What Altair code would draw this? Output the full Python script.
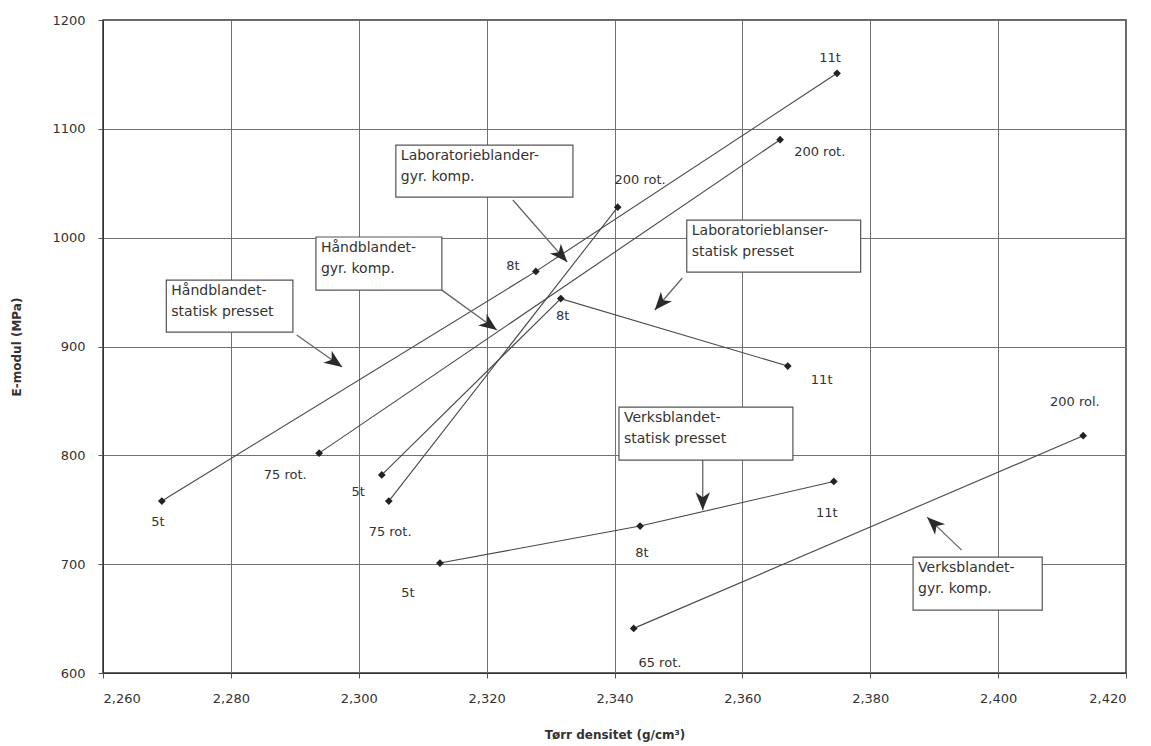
import math
import altair as alt
import pandas as pd

# ---------------- data ----------------
point_series = ["HS", "HS", "HS", "HG", "HG", "LG", "LG", "LS", "LS", "LS",
                "VS", "VS", "VS", "VG", "VG"]
density = [2.2692, 2.3277, 2.3748, 2.2938, 2.3659, 2.3047, 2.3405, 2.3036,
           2.3316, 2.3671, 2.3127, 2.3440, 2.3743, 2.3430, 2.4133]
emodul = [758, 969, 1151, 802, 1090, 758, 1028, 782, 944, 882, 701, 735, 776,
          641, 818]
point_labels = ["5t", "8t", "11t", "75 rot.", "200 rot.", "75 rot.", "200 rot.",
                "5t", "8t", "11t", "5t", "8t", "11t", "65 rot.", "200 rol."]
# annotation positions of point labels (data units)
label_x = [2.2686, 2.3241, 2.3737, 2.2885, 2.3721, 2.3049, 2.3440, 2.2999,
           2.3319, 2.3724, 2.3077, 2.3443, 2.3732, 2.3471, 2.4120]
label_y = [738.6, 973.9, 1165, 781.8, 1078.7, 729.4, 1053, 766.2, 928, 869,
           673.3, 710, 747, 609, 849]

# call-out boxes (data units)
box_text = ["Laboratorieblander-\ngyr. komp.",
            "Laboratorieblanser-\nstatisk presset",
            "Håndblandet-\ngyr. komp.",
            "Håndblandet-\nstatisk presset",
            "Verksblandet-\nstatisk presset",
            "Verksblandet-\ngyr. komp."]
box_x1 = [2.3058, 2.3513, 2.2933, 2.2699, 2.3407, 2.3867]
box_x2 = [2.3335, 2.3785, 2.3130, 2.2897, 2.3679, 2.4069]
box_y1 = [1085.1, 1016.2, 1000.6, 961.0, 844.3, 706.4]
box_y2 = [1037.3, 968.4, 951.8, 913.2, 795.6, 657.7]

# call-out arrows (start -> tip, data units)
arrow_x1 = [2.3241, 2.3506, 2.3130, 2.2903, 2.3538, 2.3943]
arrow_y1 = [1034.6, 962.9, 951.8, 910.5, 795.6, 712.9]
arrow_x2 = [2.3326, 2.3463, 2.3216, 2.2974, 2.3538, 2.3889]
arrow_y2 = [977.6, 933.5, 915.1, 881.1, 749.6, 743.2]

x_ticks = [2.26, 2.28, 2.30, 2.32, 2.34, 2.36, 2.38, 2.40, 2.42]
y_ticks = [600, 700, 800, 900, 1000, 1100, 1200]

# ---------------- layout ----------------
W, H = 1023, 653
XMIN, XMAX, YMIN, YMAX = 2.26, 2.42, 600, 1200
FONT = "DejaVu Sans"
INK = "#333333"

pts = pd.DataFrame({"s": point_series, "x": density, "y": emodul,
                    "lab": point_labels, "lx": label_x, "ly": label_y})
boxes = pd.DataFrame({"t": box_text, "x1": box_x1, "x2": box_x2,
                      "y1": box_y1, "y2": box_y2})

sx = W / (XMAX - XMIN)
sy = H / (YMAX - YMIN)
angles = []
for a, b, c, d in zip(arrow_x1, arrow_y1, arrow_x2, arrow_y2):
    dx = (c - a) * sx
    dy = -(d - b) * sy
    angles.append(math.degrees(math.atan2(dx, -dy)) % 360)
arrows = pd.DataFrame({"x1": arrow_x1, "y1": arrow_y1, "x2": arrow_x2,
                       "y2": arrow_y2, "ang": angles})

xs = alt.Scale(domain=[XMIN, XMAX], nice=False, zero=False)
ys = alt.Scale(domain=[YMIN, YMAX], nice=False, zero=False)

xaxis = alt.Axis(values=x_ticks, title="Tørr densitet (g/cm³)",
                 labelExpr="replace(format(datum.value, '.3f'), '.', ',')",
                 labelFont=FONT, labelFontSize=13, labelColor=INK,
                 titleFont=FONT, titleFontSize=12, titleFontWeight="bold",
                 titleColor=INK, labelPadding=14, titlePadding=24,
                 tickSize=5, tickColor="#555", domainColor=INK,
                 gridColor="#707070", gridWidth=1)
yaxis = alt.Axis(values=y_ticks, title="E-modul (MPa)", format="d",
                 labelFont=FONT, labelFontSize=13, labelColor=INK,
                 titleFont=FONT, titleFontSize=12, titleFontWeight="bold",
                 titleColor=INK, labelPadding=13, titlePadding=28,
                 tickSize=5, tickColor="#555", domainColor=INK,
                 gridColor="#707070", gridWidth=1)

base = alt.Chart(pts)

lines = base.mark_line(color="#484848", strokeWidth=1.1).encode(
    x=alt.X("x:Q", scale=xs, axis=xaxis),
    y=alt.Y("y:Q", scale=ys, axis=yaxis),
    detail="s:N",
)
dots = base.mark_point(shape="diamond", filled=True, size=60, color="#222222",
                       opacity=1).encode(x=alt.X("x:Q", scale=xs),
                                         y=alt.Y("y:Q", scale=ys))
labels = base.mark_text(font=FONT, fontSize=13, color=INK, align="center",
                        baseline="middle").encode(
    x=alt.X("lx:Q", scale=xs), y=alt.Y("ly:Q", scale=ys), text="lab:N")

arrow_lines = alt.Chart(arrows).mark_rule(color="#666666", strokeWidth=1.3).encode(
    x=alt.X("x1:Q", scale=xs), y=alt.Y("y1:Q", scale=ys), x2="x2:Q", y2="y2:Q")
heads = alt.Chart(arrows).mark_point(
    shape="M0,0 L0.65,1.6 L0,1.15 L-0.65,1.6 Z", filled=True, size=500,
    color="#2a2a2a", opacity=1).encode(
    x=alt.X("x2:Q", scale=xs), y=alt.Y("y2:Q", scale=ys),
    angle=alt.Angle("ang:Q", scale=None))

rects = alt.Chart(boxes).mark_rect(fill="white", stroke="#555555",
                                   strokeWidth=1.2).encode(
    x=alt.X("x1:Q", scale=xs), x2="x2:Q",
    y=alt.Y("y1:Q", scale=ys), y2="y2:Q")
rtext = alt.Chart(boxes).mark_text(font=FONT, fontSize=14, color=INK,
                                   align="left", baseline="top", dx=5, dy=4,
                                   lineBreak="\n", lineHeight=21).encode(
    x=alt.X("x1:Q", scale=xs), y=alt.Y("y1:Q", scale=ys), text="t:N")

chart = alt.layer(lines, arrow_lines, heads, rects, rtext, dots, labels).properties(
    width=W, height=H,
    autosize=alt.AutoSizeParams(type="none"),
    padding={"left": 103, "top": 20, "right": 25, "bottom": 73},
    background="white",
).configure_view(stroke=INK, strokeWidth=1.5)

chart.save("out.html", embed_options={"renderer": "svg", "actions": False})
